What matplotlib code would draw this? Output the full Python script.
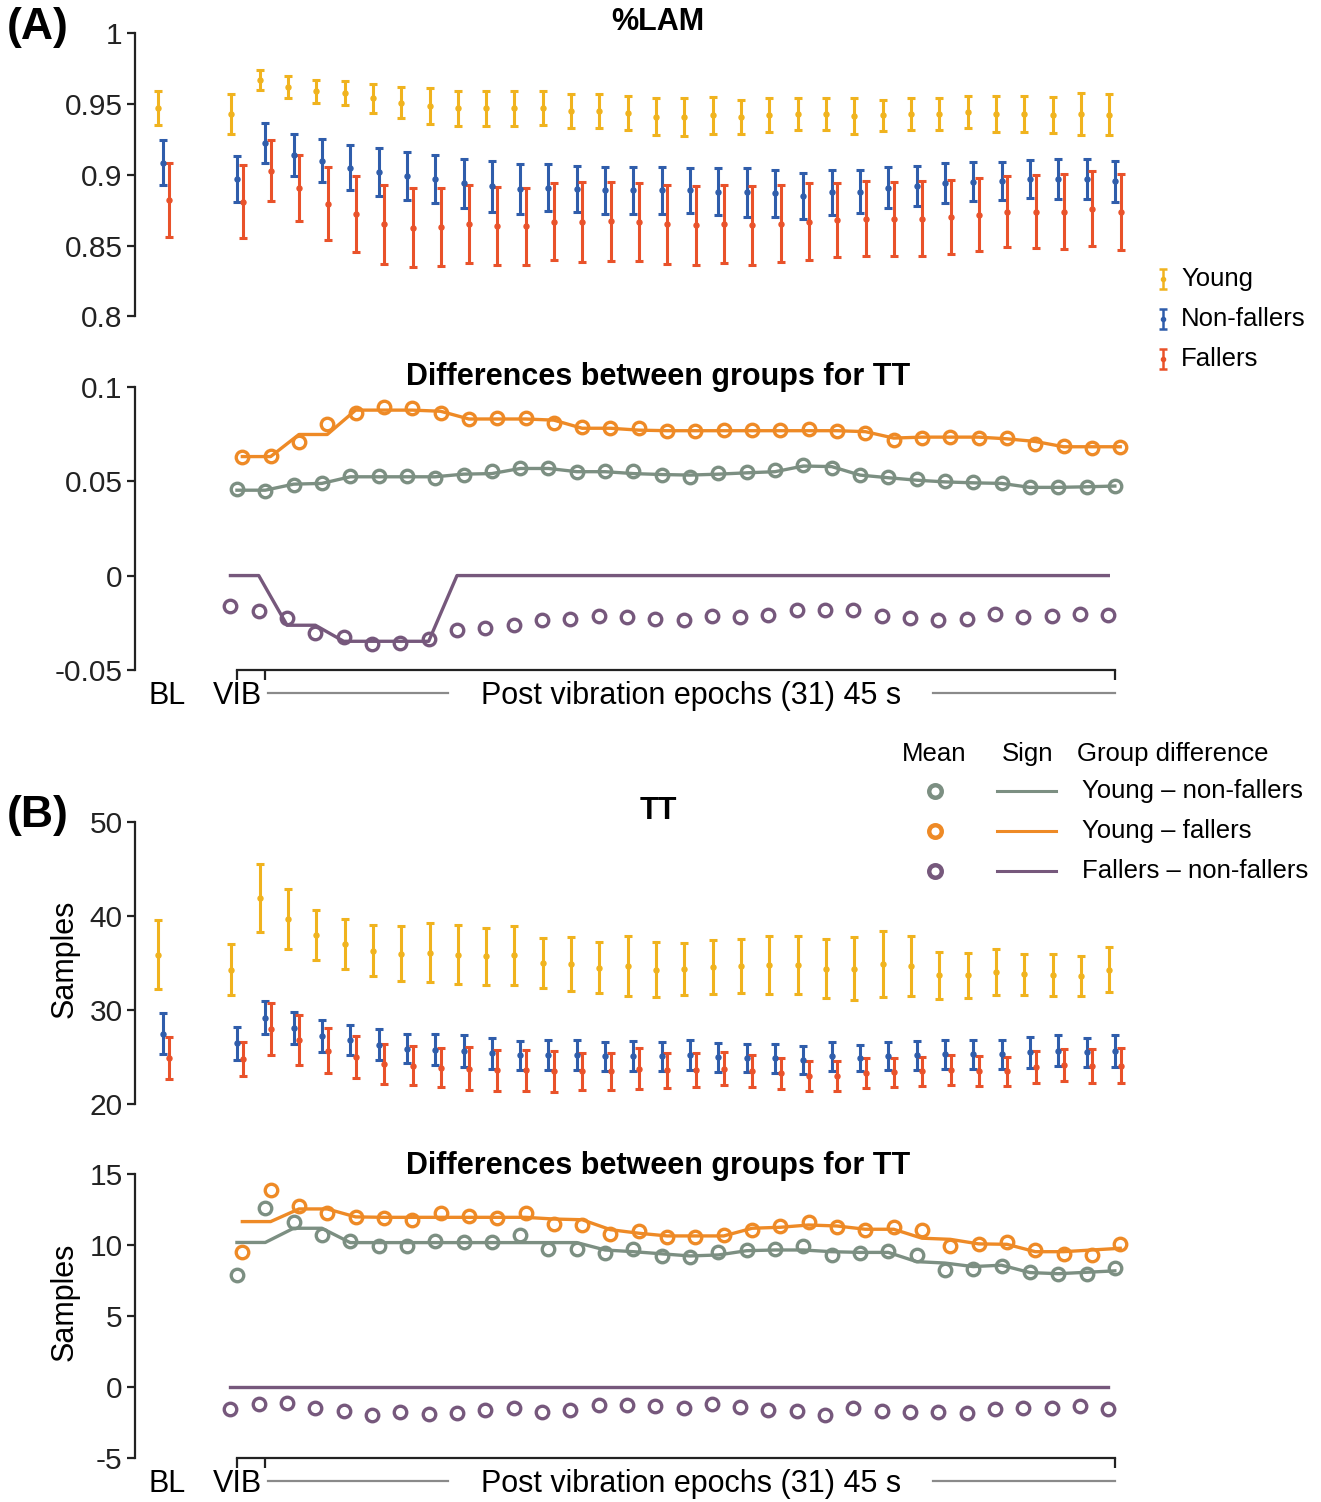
import numpy as np
import matplotlib

matplotlib.use("Agg")
import matplotlib.pyplot as plt

plt.rcParams["font.family"] = ["Liberation Sans", "DejaVu Sans"]

# ---- data -------------------------------------------------------------
# errorbar panels: BL, VIB, post-vibration epochs 1..31
lam_young = [0.947, 0.943, 0.967, 0.962, 0.959, 0.9575, 0.954, 0.951, 0.9485, 0.947, 0.947,
             0.947, 0.947, 0.945, 0.945, 0.944, 0.941, 0.941, 0.942, 0.941, 0.942, 0.943,
             0.943, 0.9415, 0.942, 0.943, 0.943, 0.9445, 0.943, 0.943, 0.9425, 0.943, 0.9425]
lam_young_err = [0.012, 0.014, 0.007, 0.0075, 0.008, 0.0085, 0.010, 0.011, 0.0125, 0.0125, 0.0125,
                 0.0125, 0.012, 0.012, 0.012, 0.012, 0.013, 0.0135, 0.013, 0.012, 0.012, 0.0115,
                 0.0115, 0.0125, 0.011, 0.011, 0.0115, 0.0115, 0.0125, 0.0125, 0.0128, 0.015, 0.0143]
lam_nonfall = [0.9085, 0.897, 0.9225, 0.914, 0.910, 0.905, 0.902, 0.899, 0.897, 0.894, 0.892,
               0.890, 0.891, 0.890, 0.889, 0.889, 0.889, 0.889, 0.888, 0.8875, 0.887, 0.885,
               0.8875, 0.888, 0.891, 0.892, 0.894, 0.895, 0.8955, 0.897, 0.897, 0.897, 0.8955]
lam_nonfall_err = [0.016, 0.0165, 0.014, 0.015, 0.015, 0.016, 0.017, 0.017, 0.017, 0.0172, 0.018,
                   0.0175, 0.0168, 0.0165, 0.0165, 0.0165, 0.0165, 0.016, 0.0165, 0.017, 0.0165,
                   0.0163, 0.016, 0.0153, 0.0148, 0.0142, 0.014, 0.0137, 0.0133, 0.0137, 0.014,
                   0.0143, 0.0145]
lam_fall = [0.882, 0.881, 0.903, 0.891, 0.8796, 0.872, 0.865, 0.8626, 0.863, 0.865, 0.864,
            0.8636, 0.8667, 0.8667, 0.867, 0.8667, 0.865, 0.8643, 0.8655, 0.8643, 0.8655, 0.8667,
            0.868, 0.869, 0.8686, 0.869, 0.870, 0.8718, 0.874, 0.874, 0.874, 0.876, 0.874]
lam_fall_err = [0.0263, 0.026, 0.0217, 0.0233, 0.0258, 0.0268, 0.0279, 0.028, 0.0278, 0.0275,
                0.0274, 0.0272, 0.0272, 0.028, 0.028, 0.0277, 0.0278, 0.028, 0.0275, 0.0278,
                0.0272, 0.0272, 0.0262, 0.0263, 0.0263, 0.0265, 0.026, 0.0257, 0.0253, 0.0258,
                0.0263, 0.0265, 0.0268]

tt_young = [35.9, 34.3, 41.9, 39.7, 38.0, 37.0, 36.3, 36.0, 36.1, 35.9, 35.7, 35.8, 35.0, 34.9,
            34.5, 34.7, 34.3, 34.4, 34.6, 34.7, 34.8, 34.8, 34.4, 34.4, 34.9, 34.7, 33.7, 33.7,
            34.0, 33.8, 33.7, 33.6, 34.3]
tt_young_err = [3.7, 2.75, 3.65, 3.2, 2.65, 2.65, 2.7, 2.9, 3.15, 3.1, 3.0, 3.1, 2.7, 2.85, 2.7,
                3.2, 2.9, 2.75, 2.85, 2.9, 3.05, 3.1, 3.1, 3.35, 3.5, 3.2, 2.5, 2.4, 2.45, 2.2,
                2.25, 2.1, 2.35]
tt_nonfall = [27.5, 26.5, 29.2, 28.1, 27.3, 26.8, 26.3, 25.9, 25.8, 25.7, 25.4, 25.2, 25.2, 25.2,
              25.1, 25.1, 25.1, 25.2, 25.0, 24.9, 24.9, 24.7, 25.1, 24.9, 25.1, 25.2, 25.3, 25.3,
              25.3, 25.5, 25.7, 25.5, 25.7]
tt_nonfall_err = [2.2, 1.75, 1.75, 1.65, 1.7, 1.6, 1.65, 1.55, 1.65, 1.7, 1.6, 1.55, 1.6, 1.6,
                  1.55, 1.6, 1.55, 1.6, 1.55, 1.5, 1.55, 1.5, 1.55, 1.4, 1.5, 1.55, 1.5, 1.5, 1.5,
                  1.6, 1.65, 1.55, 1.7]
tt_fall = [24.9, 24.8, 28.0, 26.8, 25.7, 25.0, 24.3, 24.1, 23.9, 23.8, 23.6, 23.6, 23.5, 23.5,
           23.5, 23.8, 23.6, 23.6, 23.8, 23.5, 23.3, 23.0, 23.0, 23.3, 23.4, 23.5, 23.6, 23.5,
           23.5, 24.0, 24.2, 24.1, 24.1]
tt_fall_err = [2.2, 1.8, 2.75, 2.65, 2.4, 2.25, 2.1, 2.05, 2.1, 2.25, 2.2, 2.2, 2.15, 1.95, 1.95,
               2.15, 1.85, 1.8, 1.75, 1.7, 1.65, 1.55, 1.55, 1.6, 1.55, 1.55, 1.6, 1.6, 1.55, 1.7,
               1.7, 1.8, 1.85]

# difference panels: VIB, epochs 1..31
lamd_yn_mean = [0.0458, 0.0447, 0.0479, 0.0491, 0.0526, 0.0526, 0.0526, 0.0519, 0.0532, 0.0555,
                0.057, 0.0567, 0.055, 0.0555, 0.0555, 0.0532, 0.0523, 0.0544, 0.0546, 0.0558,
                0.0588, 0.0567, 0.0532, 0.052, 0.0509, 0.0502, 0.0496, 0.0488, 0.047, 0.0467,
                0.047, 0.0475]
lamd_yn_sign = [0.0452, 0.0452, 0.0484, 0.0488, 0.0523, 0.0523, 0.0523, 0.0523, 0.0537, 0.054,
                0.0567, 0.0567, 0.055, 0.055, 0.054, 0.0535, 0.0532, 0.0537, 0.0544, 0.055,
                0.058, 0.0577, 0.0532, 0.0518, 0.0505, 0.0496, 0.0491, 0.0488, 0.0467, 0.0467,
                0.047, 0.0474]
lamd_yf_mean = [0.0629, 0.0632, 0.0705, 0.080, 0.0862, 0.0894, 0.0885, 0.0859, 0.0827, 0.0832,
                0.0836, 0.0809, 0.0784, 0.0779, 0.0779, 0.0767, 0.0767, 0.077, 0.077, 0.077,
                0.0774, 0.0767, 0.0756, 0.072, 0.0731, 0.0735, 0.0731, 0.0726, 0.0696, 0.0685,
                0.0678, 0.0682]
lamd_yf_sign = [0.063, 0.063, 0.0747, 0.0747, 0.0876, 0.0876, 0.0876, 0.087, 0.0829, 0.0829,
                0.0829, 0.0823, 0.078, 0.078, 0.077, 0.0767, 0.0767, 0.0767, 0.0767, 0.0767,
                0.0767, 0.0767, 0.0762, 0.0728, 0.0733, 0.0733, 0.0733, 0.0724, 0.071, 0.0682,
                0.0682, 0.0682]
lamd_fn_mean = [-0.0163, -0.0187, -0.0223, -0.0304, -0.0325, -0.0364, -0.0357, -0.0334, -0.029,
                -0.0276, -0.0263, -0.0237, -0.0228, -0.0216, -0.022, -0.0228, -0.0237, -0.0216,
                -0.022, -0.0207, -0.018, -0.0184, -0.0184, -0.0216, -0.0225, -0.0233, -0.0228,
                -0.0205, -0.022, -0.0216, -0.0201, -0.0207]
lamd_fn_sign = [0, 0, -0.0263, -0.0263, -0.0348, -0.0348, -0.0348, -0.0348] + [0] * 24

ttd_yn_mean = [7.9, 12.65, 11.67, 10.73, 10.33, 9.95, 9.95, 10.33, 10.26, 10.26, 10.73, 9.74, 9.74,
               9.48, 9.74, 9.25, 9.16, 9.55, 9.67, 9.74, 9.95, 9.32, 9.44, 9.62, 9.32, 8.26, 8.31,
               8.55, 8.15, 7.96, 7.96, 8.43]
ttd_yn_sign = [10.2, 10.2, 11.2, 11.2, 10.19, 10.19, 10.19, 10.19, 10.19, 10.19, 10.19, 10.19,
               10.19, 9.67, 9.55, 9.4, 9.25, 9.32, 9.62, 9.67, 9.67, 9.55, 9.5, 9.5, 8.85, 8.75,
               8.5, 8.6, 8.08, 8.0, 8.1, 8.2]
ttd_yf_mean = [9.5, 13.9, 12.8, 12.3, 12.0, 11.9, 11.8, 12.25, 12.05, 11.95, 12.25, 11.5, 11.4,
               10.8, 11.0, 10.61, 10.61, 10.73, 11.08, 11.36, 11.67, 11.32, 11.08, 11.27, 11.08,
               9.95, 10.07, 10.21, 9.67, 9.39, 9.32, 10.09]
ttd_yf_sign = [11.67, 11.67, 12.56, 12.56, 12.0, 11.97, 11.97, 11.97, 11.97, 11.97, 11.97, 11.85,
               11.8, 11.1, 10.85, 10.66, 10.66, 10.66, 11.2, 11.27, 11.43, 11.36, 11.13, 11.13,
               10.5, 10.42, 10.1, 10.07, 9.55, 9.55, 9.67, 9.79]
ttd_fn_mean = [-1.55, -1.2, -1.12, -1.48, -1.7, -1.95, -1.76, -1.88, -1.83, -1.6, -1.43, -1.71,
               -1.6, -1.24, -1.24, -1.31, -1.48, -1.17, -1.36, -1.6, -1.64, -1.95, -1.48, -1.64,
               -1.71, -1.71, -1.78, -1.55, -1.48, -1.43, -1.29, -1.55]
ttd_fn_sign = [0] * 32

group_names = ["Young", "Non-fallers", "Fallers"]
diff_names = ["Young \u2013 non-fallers", "Young \u2013 fallers", "Fallers \u2013 non-fallers"]

# ---- style --------------------------------------------------------------
C_YOUNG, C_NONF, C_FALL = "#F0B31E", "#2F5DAB", "#E9522A"
C_YN, C_YF, C_FN = "#7C8F82", "#EE8A26", "#76587C"
INK = "#222222"

W, H = 1321, 1502
BL_POS = -2.6
X_ERR = np.concatenate([[BL_POS], np.arange(32)])
X_DIFF = np.arange(32)


def px_box(left, top, right, bottom):
    return [left / W, 1 - bottom / H, (right - left) / W, (bottom - top) / H]


fig = plt.figure(figsize=(W / 100, H / 100), dpi=100)


def base_axes(box, ylim, ticks, labels):
    ax = fig.add_axes(box)
    ax.set_xlim(-3.6, 31.5)
    ax.set_ylim(*ylim)
    ax.set_yticks(ticks)
    ax.set_yticklabels(labels)
    for side in ("top", "right"):
        ax.spines[side].set_visible(False)
    ax.spines["left"].set_linewidth(1.6)
    ax.spines["left"].set_color(INK)
    ax.tick_params(axis="y", length=6, width=1.6, labelsize=21.5, pad=3,
                   colors=INK, labelcolor=INK)
    ax.patch.set_alpha(0)
    return ax


def errorbar_panel(ax, series):
    for vals, errs, color, off in series:
        ax.errorbar(X_ERR + off, vals, yerr=errs, fmt="o", ms=3.6, color=color,
                    ecolor=color, elinewidth=2.2, capsize=3.2, capthick=2.2,
                    clip_on=False, zorder=3)
    ax.spines["bottom"].set_visible(False)
    ax.set_xticks([])


def diff_panel(ax, series):
    for mean, sign, color, off in series:
        ax.plot(X_DIFF + off, sign, color=color, lw=2.4, clip_on=False, zorder=2)
        ax.plot(X_DIFF + off, mean, "o", mfc="none", mec=color, ms=9, mew=2.4,
                clip_on=False, zorder=3)
    ax.spines["bottom"].set_bounds(0, 31)
    ax.spines["bottom"].set_linewidth(1.6)
    ax.spines["bottom"].set_color(INK)
    ax.set_xticks([0, 1, 31])
    ax.set_xticklabels([])
    ax.tick_params(axis="x", length=7, width=1.6, direction="out", colors=INK)
    trans = ax.get_xaxis_transform()
    ax.text(-2.47, -0.092, "BL", transform=trans, ha="center", va="center", fontsize=22)
    ax.text(0, -0.092, "VIB", transform=trans, ha="center", va="center", fontsize=22)
    ax.text(16.05, -0.092, "Post vibration epochs (31) 45 s", transform=trans,
            ha="center", va="center", fontsize=22)
    for x0, x1 in ((1.09, 7.45), (24.58, 31.0)):
        ax.plot([x0, x1], [-0.081, -0.081], transform=trans, color="#8a8a8a", lw=1.6,
                clip_on=False)


# ---- panel A ------------------------------------------------------------
axA = base_axes(px_box(135, 33.3, 1129, 316.3), (0.8, 1.0),
                [0.8, 0.85, 0.9, 0.95, 1.0], ["0.8", "0.85", "0.9", "0.95", "1"])
errorbar_panel(axA, [(lam_young, lam_young_err, C_YOUNG, -0.2),
                     (lam_nonfall, lam_nonfall_err, C_NONF, 0.0),
                     (lam_fall, lam_fall_err, C_FALL, 0.2)])

axAd = base_axes(px_box(135, 386.7, 1129, 670), (-0.05, 0.1),
                 [-0.05, 0, 0.05, 0.1], ["-0.05", "0", "0.05", "0.1"])
diff_panel(axAd, [(lamd_fn_mean, lamd_fn_sign, C_FN, -0.23),
                  (lamd_yn_mean, lamd_yn_sign, C_YN, 0.0),
                  (lamd_yf_mean, lamd_yf_sign, C_YF, 0.19)])

# ---- panel B ------------------------------------------------------------
axB = base_axes(px_box(135, 821.7, 1129, 1104.3), (20, 50),
                [20, 30, 40, 50], ["20", "30", "40", "50"])
errorbar_panel(axB, [(tt_young, tt_young_err, C_YOUNG, -0.2),
                     (tt_nonfall, tt_nonfall_err, C_NONF, 0.0),
                     (tt_fall, tt_fall_err, C_FALL, 0.2)])

axBd = base_axes(px_box(135, 1174.3, 1129, 1458.3), (-5, 15),
                 [-5, 0, 5, 10, 15], ["-5", "0", "5", "10", "15"])
diff_panel(axBd, [(ttd_fn_mean, ttd_fn_sign, C_FN, -0.23),
                  (ttd_yn_mean, ttd_yn_sign, C_YN, 0.0),
                  (ttd_yf_mean, ttd_yf_sign, C_YF, 0.19)])

# ---- titles, labels, legends (pixel overlay) ----------------------------
ov = fig.add_axes([0, 0, 1, 1], zorder=10)
ov.set_xlim(0, W)
ov.set_ylim(H, 0)
ov.axis("off")

for x, y, s in ((658, 22, "%LAM"), (658, 377, "Differences between groups for TT"),
                (658, 811, "TT"), (658, 1166, "Differences between groups for TT")):
    ov.text(x, y, s, ha="center", va="center", fontsize=22, fontweight="bold")
ov.text(38, 28, "(A)", ha="center", va="center", fontsize=32, fontweight="bold")
ov.text(38, 815, "(B)", ha="center", va="center", fontsize=32, fontweight="bold")
for y in (959, 1302):
    ov.text(65, y, "Samples", rotation=90, ha="center", va="center", fontsize=22)

for name, color, y in zip(group_names, (C_YOUNG, C_NONF, C_FALL), (279, 319, 359)):
    ov.errorbar([1163], [y], yerr=[10], fmt="o", ms=3, color=color, ecolor=color,
                elinewidth=1.8, capsize=3, capthick=1.8)
    ov.text(1181, y, name, ha="left", va="center", fontsize=18.5)

ov.text(934, 754, "Mean", ha="center", va="center", fontsize=18.5)
ov.text(1028, 754, "Sign", ha="center", va="center", fontsize=18.5)
ov.text(1077, 754, "Group difference", ha="left", va="center", fontsize=18.5)
for name, color, y in zip(diff_names, (C_YN, C_YF, C_FN), (791, 831, 871)):
    ov.plot([935], [y], "o", mfc="none", mec=color, ms=9, mew=3.2)
    ov.plot([997, 1056], [y, y], color=color, lw=2.2)
    ov.text(1082, y, name, ha="left", va="center", fontsize=18.5)

fig.savefig("out.png", dpi=100)
